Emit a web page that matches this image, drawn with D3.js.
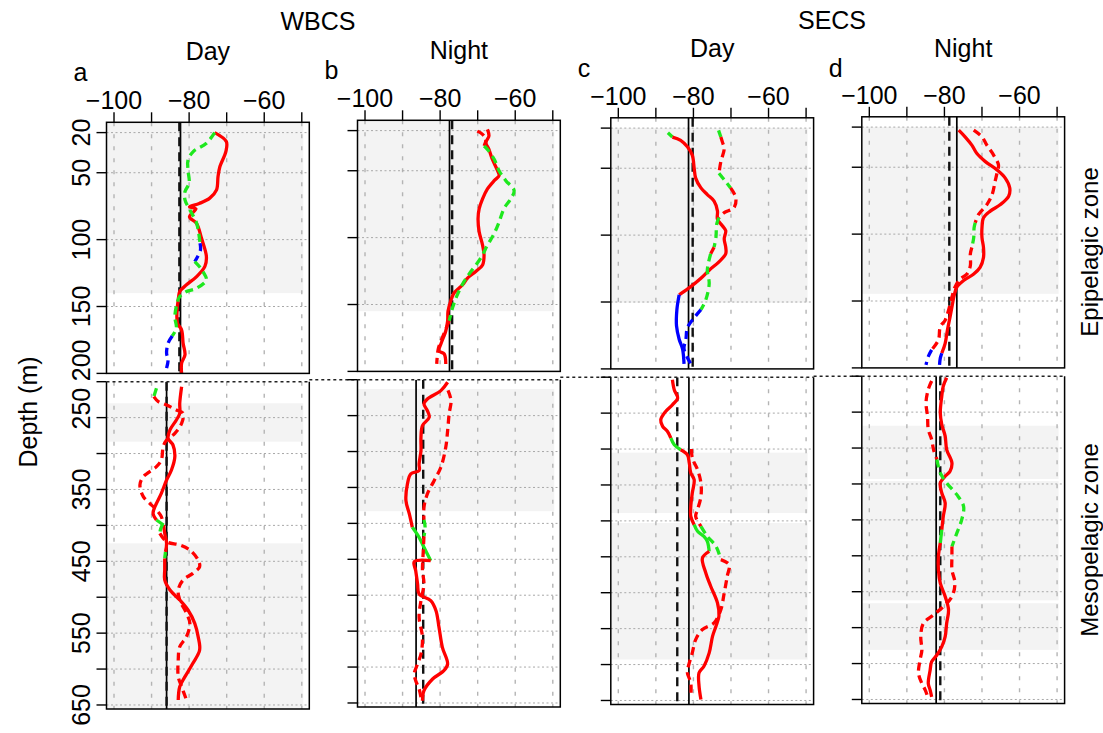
<!DOCTYPE html>
<html>
<head>
<meta charset="utf-8">
<script src="https://cdn.jsdelivr.net/npm/d3@7"></script>
<style>
  body { margin: 0; background: #fff; }
  svg { display: block; }
  text { font-family: "Liberation Sans", Arial, Helvetica, sans-serif; fill: #000; }
</style>
</head>
<body>
<svg id="chart" width="1103" height="733"></svg>
<script>
// ---- axis ticks ----
const xTicks = [-100, -90, -80, -70, -60, -50];
const xTickLabels = [-100, -80, -60];
const upperDepthTicks = [20, 50, 100, 150, 200];
const upperDepthLabels = [20, 50, 100, 150, 200];
const lowerDepthTicks = [200, 250, 300, 350, 400, 450, 500, 550, 600, 650];
const lowerDepthLabels = [250, 350, 450, 550, 650];

// ---- panel headings ----
const regions = ["WBCS", "SECS"];
const periods = ["Day", "Night", "Day", "Night"];
const panelLetters = ["a", "b", "c", "d"];
const zoneLabels = ["Epipelagic zone", "Mesopelagic zone"];

// ---- mean Sv (dB): [solid, dashed] per panel ----
const meanUpper = { a: [-82.3, -82.6], b: [-77.5, -76.8], c: [-81.3, -80.2], d: [-76.7, -78.7] };
const meanLower = { a: [-86.0, -86.0], b: [-86.4, -84.5], c: [-81.2, -84.3], d: [-82.2, -81.1] };

// ---- shaded depth layers (m) ----
const shadeUpper = { a: [[12, 140]], b: [[12, 155]], c: [[20, 150.5]], d: [[20, 144.6]] };
const shadeLower = {
  a: [[230, 283.5], [425, 660]],
  b: [[213, 383]],
  c: [[305, 389], [403, 593]],
  d: [[269, 343], [346, 512], [516, 581]]
};

// ---- Sv profiles: [depth (m), Sv (dB), colour of segment ending here] ----
// colour codes: r = red, g = green, b = blue
const aUpperSolid = [
  [20,-73.2,"r"],[26.7,-70.1,"r"],[34,-70.2,"r"],[45.4,-71.8,"r"],[52.9,-72.3,"r"],[62.8,-72.7,"r"],
  [69,-74.5,"r"],[73,-77.3,"r"],[75.5,-79.9,"r"],[77,-78.2,"r"],[83,-79.9,"r"],[88,-78.0,"r"],
  [99,-76.7,"r"],[112.6,-75.4,"r"],[120,-75.8,"r"],[127.6,-78.0,"r"],[133.8,-80.7,"r"],[138.8,-82.5,"r"],
  [145,-82.9,"r"],[152.5,-83.2,"r"],[162.5,-83.1,"r"],[167.5,-82.0,"r"],[177.4,-81.6,"r"],[186.1,-81.1,"r"],
  [192.4,-82.0,"r"],[200,-82.0,"r"]
];
const aUpperDashed = [
  [20,-73.2,"g"],[28,-75.4,"g"],[34.2,-78.9,"g"],[40.4,-80.3,"g"],[47.9,-80.3,"g"],[57.8,-80.0,"g"],
  [64.1,-81.1,"g"],[70.3,-81.1,"g"],[77.8,-79.8,"g"],[87.7,-78.0,"g"],[102.7,-77.1,"g"],[108,-77.0,"b"],
  [116.4,-78.5,"b"],[121,-77.0,"g"],[125,-76.1,"g"],[130.1,-75.4,"g"],[136.3,-78.0,"g"],[138.8,-80.7,"g"],
  [142.5,-82.5,"g"],[147.5,-83.2,"g"],[157.5,-83.8,"g"],[166.2,-83.4,"g"],[172,-84.5,"g"],[177.4,-85.6,"b"],
  [184.9,-86.0,"b"],[189.9,-85.6,"b"],[196.1,-86.0,"b"]
];
const aLowerSolid = [
  [206.9,-82.0,"r"],[230,-82.5,"r"],[244,-82.5,"r"],[253.3,-83.4,"r"],[267.2,-85.1,"r"],[278.8,-85.6,"r"],
  [288.1,-84.3,"r"],[304.3,-83.8,"r"],[322.9,-84.7,"r"],[336.8,-86.0,"r"],[355.4,-87.4,"r"],[374,-89.1,"r"],
  [383.2,-89.6,"r"],[392.5,-88.7,"r"],[399.5,-86.8,"g"],[411.1,-86.5,"r"],[425,-86.0,"r"],[437,-86.3,"r"],
  [446,-86.5,"g"],[462.1,-86.5,"r"],[476,-86.5,"r"],[490,-85.1,"r"],[503.9,-82.5,"r"],[517.8,-80.3,"r"],
  [536.4,-78.5,"r"],[554.9,-77.6,"r"],[573.5,-77.2,"r"],[592,-79.0,"r"],[610.6,-81.1,"r"],[624.5,-82.5,"r"],
  [643.1,-82.9,"r"]
];
const aLowerDashed = [
  [209.2,-88.7,"g"],[220.8,-89.4,"g"],[227.8,-88.2,"r"],[232.4,-86.0,"r"],[239.4,-83.4,"r"],[244,-81.6,"r"],
  [258,-82.0,"r"],[271.9,-83.8,"r"],[281.1,-86.0,"r"],[290.4,-86.9,"r"],[309,-87.4,"r"],[318.3,-88.7,"r"],
  [332.2,-92.2,"r"],[343.8,-93.1,"r"],[360,-92.2,"r"],[369.3,-90.5,"r"],[376.3,-89.1,"r"],[387.9,-87.4,"r"],
  [398,-87.0,"r"],[405,-87.6,"g"],[411.1,-87.8,"g"],[422.7,-86.0,"r"],[427.3,-82.5,"r"],[434.3,-79.8,"r"],
  [448.2,-77.6,"r"],[457.5,-77.2,"r"],[466.8,-79.0,"r"],[476,-81.6,"r"],[490,-82.9,"r"],[503.9,-82.5,"r"],
  [522.4,-80.7,"r"],[536.4,-79.8,"r"],[554.9,-80.7,"r"],[568.9,-82.5,"r"],[587.4,-82.9,"r"],[610.6,-82.9,"r"],
  [624.5,-82.0,"r"],[643.1,-80.7,"r"]
];

const bUpperSolid = [
  [19.1,-67.4,"r"],[24,-67.0,"r"],[29,-67.8,"r"],[34,-67.0,"r"],[41.4,-66.1,"r"],[50,-64.7,"r"],
  [53.7,-64.3,"r"],[57.4,-65.6,"r"],[63.6,-67.4,"r"],[71,-68.7,"r"],[78.4,-69.6,"r"],[85.8,-69.9,"r"],
  [95.7,-69.6,"r"],[105.6,-68.7,"r"],[113,-68.3,"r"],[120.4,-68.7,"r"],[125.3,-70.5,"r"],[130.2,-72.7,"r"],
  [135.2,-74.0,"r"],[141.4,-76.3,"r"],[147.5,-77.2,"r"],[155,-77.9,"r"],[162.3,-78.0,"r"],[169.8,-78.5,"r"],
  [179.6,-79.8,"r"],[184.6,-80.3,"r"],[187,-78.9,"r"],[194.4,-78.5,"r"]
];
const bUpperDashed = [
  [20.4,-70.1,"r"],[22.8,-68.7,"r"],[26.5,-67.8,"r"],[31.5,-68.3,"r"],[34,-67.4,"g"],[41.4,-65.6,"g"],
  [50,-64.3,"g"],[57.4,-62.5,"g"],[64.8,-60.3,"g"],[71,-61.2,"g"],[78.4,-63.0,"g"],[88.3,-64.3,"g"],
  [96.9,-65.6,"g"],[105.6,-67.4,"g"],[115.4,-69.2,"g"],[125.3,-71.8,"g"],[132.7,-73.6,"g"],[142.6,-75.4,"g"],
  [152.5,-76.7,"g"],[162.3,-77.6,"g"],[174.7,-79.4,"r"],[183.3,-80.5,"r"],[194.4,-80.9,"r"]
];
const bLowerSolid = [
  [203.6,-78.0,"r"],[215.2,-79.8,"r"],[226.8,-83.4,"r"],[233.8,-84.3,"r"],[243,-83.4,"r"],[252.3,-82.9,"r"],
  [263.9,-84.7,"r"],[280.2,-85.1,"r"],[298.7,-85.1,"r"],[317.3,-85.6,"r"],[326.6,-85.6,"r"],[331.2,-87.8,"r"],
  [345.1,-88.7,"r"],[368.3,-89.1,"r"],[386.9,-88.2,"r"],[405.5,-87.4,"r"],[419.4,-85.6,"g"],[433.3,-84.3,"g"],
  [451.9,-82.5,"g"],[453.5,-86.9,"r"],[465.8,-86.5,"r"],[484.3,-86.0,"r"],[498.3,-85.6,"r"],[507.5,-82.5,"r"],
  [521.5,-81.1,"r"],[544.7,-80.3,"r"],[572.5,-79.4,"r"],[595.7,-78.0,"r"],[605,-79.0,"r"],[616.6,-82.0,"r"],
  [632.8,-84.3,"r"],[646.8,-84.7,"r"]
];
const bLowerDashed = [
  [215,-77.9,"r"],[229,-77.1,"r"],[247.7,-77.6,"r"],[270.9,-78.0,"r"],[294.1,-78.5,"r"],[321.9,-79.8,"r"],
  [340.5,-81.6,"r"],[359,-83.4,"r"],[377.6,-84.3,"r"],[395,-84.3,"r"],[405,-84.0,"g"],[418,-84.3,"g"],
  [440,-84.5,"r"],[465.8,-84.7,"r"],[484.3,-84.3,"r"],[507.5,-85.1,"r"],[530.7,-85.6,"r"],[558.6,-84.7,"r"],
  [581.8,-85.1,"r"],[595.7,-86.0,"r"],[609.6,-86.9,"r"],[618.9,-86.5,"r"],[630.5,-85.6,"r"],[642.1,-85.1,"r"]
];

const cUpperSolid = [
  [23.5,-86.8,"g"],[26.7,-85.6,"g"],[29.1,-83.4,"r"],[34,-81.6,"r"],[40.2,-80.3,"r"],[50,-79.8,"r"],
  [57.4,-79.4,"r"],[64.7,-78.0,"r"],[69.7,-76.3,"r"],[74.6,-74.5,"r"],[81.9,-73.6,"r"],[88.1,-73.6,"r"],
  [93,-72.3,"r"],[96.7,-71.4,"r"],[102.8,-71.8,"r"],[109,-71.4,"r"],[113.9,-71.4,"r"],[120,-73.2,"r"],
  [126.2,-75.8,"r"],[132.3,-78.0,"r"],[138.5,-80.7,"r"],[144.6,-83.8,"r"],[155.7,-84.4,"b"],[167.9,-84.5,"b"],
  [177.8,-83.8,"b"],[185.1,-82.9,"b"],[196.2,-82.5,"b"]
];
const cUpperDashed = [
  [21.7,-73.3,"g"],[26.7,-72.7,"g"],[30.3,-72.3,"r"],[35.3,-71.8,"r"],[45.1,-72.7,"r"],[53.7,-73.2,"r"],
  [58.6,-71.8,"g"],[64.7,-70.1,"g"],[72.1,-68.7,"r"],[79.5,-69.2,"r"],[83.2,-71.8,"r"],[86.9,-73.2,"r"],
  [91.8,-73.8,"g"],[101.6,-74.0,"g"],[109,-74.5,"g"],[113.9,-75.4,"r"],[126.2,-76.3,"g"],[136,-75.8,"g"],
  [148.3,-76.7,"g"],[155.7,-78.0,"g"],[161.8,-79.8,"b"],[169.2,-81.6,"b"],[177.8,-82.0,"b"],[185.1,-82.5,"b"],
  [196.2,-80.7,"b"]
];
const cLowerSolid = [
  [203.6,-85.6,"r"],[217.6,-85.1,"r"],[229.1,-84.2,"r"],[238.4,-85.6,"r"],[247.7,-87.4,"r"],[259.3,-88.7,"r"],
  [268.5,-88.2,"r"],[275.5,-86.9,"r"],[284.8,-86.0,"r"],[294,-85.1,"g"],[301,-83.4,"g"],[308,-81.6,"r"],
  [319.5,-81.1,"r"],[333.4,-80.7,"r"],[342.7,-79.8,"r"],[361.2,-80.3,"r"],[379.8,-80.7,"r"],[393.7,-80.7,"r"],
  [405.3,-79.8,"r"],[414.5,-78.9,"g"],[421.5,-77.2,"g"],[428.4,-76.3,"g"],[442.4,-75.8,"g"],[451.6,-77.6,"r"],
  [472.5,-76.7,"r"],[491,-75.4,"r"],[514.2,-73.6,"r"],[532.7,-73.2,"r"],[546.6,-74.0,"r"],[560.5,-74.9,"r"],
  [583.7,-75.8,"r"],[602.3,-77.2,"r"],[611.5,-78.5,"r"],[630,-78.5,"r"],[648.6,-78.0,"r"]
];
const cLowerDashed = [
  [300,-80.5,"r"],[312.6,-80.3,"r"],[328.8,-78.9,"r"],[347.3,-78.0,"r"],[365.9,-78.0,"r"],[384.4,-78.9,"r"],
  [393.7,-79.4,"r"],[407.6,-78.0,"r"],[421.5,-76.3,"g"],[435.4,-74.0,"g"],[453.9,-72.7,"g"],[460.9,-70.5,"r"],
  [477.1,-71.0,"r"],[500.3,-71.8,"r"],[523.5,-72.7,"r"],[542,-74.5,"r"],[551.3,-77.6,"r"],[565.2,-79.4,"r"],
  [583.7,-80.3,"r"],[597.6,-81.1,"r"],[611.5,-81.6,"r"],[625.4,-80.7,"r"],[646.3,-80.7,"r"]
];

const dUpperSolid = [
  [22.3,-76.2,"r"],[27.3,-74.5,"r"],[33.5,-72.7,"r"],[39.6,-71.4,"r"],[45.8,-69.1,"r"],[52,-66.0,"r"],
  [58.1,-63.8,"r"],[65.6,-62.6,"r"],[71.7,-62.9,"r"],[77.9,-65.1,"r"],[82.8,-67.8,"r"],[87.8,-69.6,"r"],
  [95.2,-70.0,"r"],[102.6,-70.0,"r"],[110,-69.6,"r"],[117.4,-69.6,"r"],[124.8,-70.5,"r"],[129.8,-72.2,"r"],
  [134.7,-74.9,"r"],[139.6,-76.7,"r"],[145.8,-77.4,"r"],[154.4,-78.0,"r"],[161.9,-78.5,"r"],[171.7,-79.2,"r"],
  [181.6,-79.8,"r"],[189,-80.7,"r"],[192.7,-81.1,"b"],[197.7,-81.3,"b"]
];
const dUpperDashed = [
  [22.3,-72.2,"r"],[27.3,-70.0,"r"],[33.5,-68.7,"r"],[40.9,-66.9,"r"],[48.3,-65.6,"r"],[54.4,-66.0,"r"],
  [60.6,-66.5,"r"],[70.5,-67.3,"r"],[77.9,-68.7,"r"],[85.3,-70.9,"r"],[91.5,-71.8,"r"],[95.2,-72.1,"g"],
  [102.6,-72.2,"g"],[110,-72.7,"g"],[114.9,-73.1,"r"],[123.6,-73.1,"r"],[129.8,-74.0,"r"],[133.5,-75.8,"r"],
  [139.6,-77.2,"r"],[147,-78.0,"r"],[156.9,-78.9,"r"],[164.3,-79.8,"r"],[169.3,-81.1,"r"],[179.1,-81.6,"r"],
  [186.5,-83.4,"r"],[191.5,-84.3,"b"],[197.7,-84.9,"b"]
];
const dLowerSolid = [
  [202.1,-79.4,"r"],[213.7,-80.3,"r"],[227.7,-80.7,"r"],[250.9,-81.1,"r"],[267.2,-80.7,"r"],[283.5,-79.8,"r"],
  [302.1,-79.4,"r"],[320.7,-78.0,"r"],[332.3,-78.5,"r"],[339.3,-79.8,"r"],[348.6,-81.1,"r"],[362.6,-80.7,"r"],
  [376.5,-79.8,"r"],[395.1,-80.3,"r"],[413.7,-80.7,"r"],[432.3,-81.1,"g"],[450.9,-81.6,"r"],[469.5,-81.6,"r"],
  [488.1,-81.1,"r"],[506.7,-79.8,"r"],[525.3,-78.9,"r"],[543.9,-79.4,"r"],[562.6,-79.8,"r"],[576.5,-80.7,"r"],
  [588.1,-82.0,"r"],[597.4,-83.4,"r"],[609.1,-83.8,"r"],[627.7,-84.3,"r"],[637,-83.8,"r"],[646.3,-83.4,"r"]
];
const dLowerDashed = [
  [206.7,-83.4,"r"],[218.4,-84.3,"r"],[237,-84.9,"r"],[255.6,-84.5,"r"],[274.2,-84.3,"r"],[288.1,-83.4,"r"],
  [302.1,-82.9,"r"],[316,-82.0,"r"],[334.7,-81.1,"g"],[348.6,-79.4,"g"],[364.9,-76.7,"g"],[381.2,-74.9,"g"],
  [399.8,-75.4,"g"],[418.4,-76.7,"g"],[437,-78.0,"g"],[450.9,-78.0,"r"],[469.5,-78.0,"r"],[488.1,-77.2,"r"],
  [506.7,-78.0,"r"],[520.7,-80.3,"r"],[532.3,-82.9,"r"],[543.9,-85.6,"r"],[562.6,-86.3,"r"],[581.2,-86.0,"r"],
  [595.1,-86.5,"r"],[613.7,-86.9,"r"],[627.7,-86.0,"r"],[637,-85.1,"r"],[648.6,-84.3,"r"]
];

const profiles = {
  a: { upper: [aUpperSolid, aUpperDashed], lower: [aLowerSolid, aLowerDashed] },
  b: { upper: [bUpperSolid, bUpperDashed], lower: [bLowerSolid, bLowerDashed] },
  c: { upper: [cUpperSolid, cUpperDashed], lower: [cLowerSolid, cLowerDashed] },
  d: { upper: [dUpperSolid, dUpperDashed], lower: [dLowerSolid, dLowerDashed] }
};

// ---- layout ----
const svg = d3.select("#chart");
const FONT = 25;
const boxW = 202.8;
const panelLeft = [106.5, 357.5, 610.8, 861.8];
const panelShift = [0, -2, -4.5, -5.5];
const upperTop = 122.3, upperBottom = 373.4;
const lowerTop = 381.7, lowerBottom = 709;
const svDomain = [-102, -48];
const colour = { r: "#ff0000", g: "#1ee81e", b: "#0000ff" };
const tickLen = 10;

const defs = svg.append("defs");

function drawProfile(g, pts, x, y, dashed) {
  // split the profile into runs of one colour, each run joined to the previous point
  const runs = [];
  for (let i = 1; i < pts.length; i++) {
    const c = pts[i][2];
    const last = runs[runs.length - 1];
    if (last && last.c === c) last.pts.push(pts[i]);
    else runs.push({ c, pts: [pts[i - 1], pts[i]] });
  }
  const line = d3.line().x(p => x(p[1])).y(p => y(p[0])).curve(d3.curveCatmullRom.alpha(0.5));
  runs.forEach(run => {
    g.append("path")
      .attr("d", line(run.pts))
      .attr("fill", "none")
      .attr("stroke", colour[run.c])
      .attr("stroke-width", 3.3)
      .attr("stroke-linecap", "butt")
      .attr("stroke-linejoin", "round")
      .attr("stroke-dasharray", dashed ? "8,5" : null);
  });
}

panelLetters.forEach((key, i) => {
  const left = panelLeft[i];
  const dy = panelShift[i];
  const x = d3.scaleLinear().domain(svDomain).range([left, left + boxW]);

  const halves = [
    { name: "upper", y: d3.scaleLinear().domain([12.3, 200]).range([upperTop + dy, upperBottom + dy]),
      ticks: upperDepthTicks, shade: shadeUpper[key], means: meanUpper[key], grid: [20, 50, 100, 150] },
    { name: "lower", y: d3.scaleLinear().domain([200, 655.6]).range([lowerTop + dy, lowerBottom + dy]),
      ticks: lowerDepthTicks, shade: shadeLower[key], means: meanLower[key], grid: [250, 300, 350, 400, 450, 500, 550, 600, 650] }
  ];

  halves.forEach(h => {
    const [d0, d1] = h.y.domain();
    const top = h.y(d0), bottom = h.y(d1);
    const clipId = `clip-${key}-${h.name}`;
    defs.append("clipPath").attr("id", clipId)
      .append("rect").attr("x", left).attr("y", top).attr("width", boxW).attr("height", bottom - top);

    const g = svg.append("g");
    const inner = g.append("g").attr("clip-path", `url(#${clipId})`);

    // shaded layers
    h.shade.forEach(([s0, s1]) => {
      inner.append("rect")
        .attr("x", x(-102)).attr("width", x(-49.6) - x(-102))
        .attr("y", h.y(s0)).attr("height", h.y(s1) - h.y(s0))
        .attr("fill", "#f3f3f3");
    });

    // grid
    inner.selectAll(".vg").data(xTicks).join("line")
      .attr("x1", d => x(d)).attr("x2", d => x(d))
      .attr("y1", top).attr("y2", bottom)
      .attr("stroke", "#b4b4b4").attr("stroke-width", 1.4).attr("stroke-dasharray", "4,8");
    inner.selectAll(".hg").data(h.grid).join("line")
      .attr("x1", left).attr("x2", left + boxW)
      .attr("y1", d => h.y(d)).attr("y2", d => h.y(d))
      .attr("stroke", "#a8a8a8").attr("stroke-width", 1).attr("stroke-dasharray", "2,2.5");

    // mean lines
    inner.append("line")
      .attr("x1", x(h.means[0])).attr("x2", x(h.means[0]))
      .attr("y1", top).attr("y2", bottom)
      .attr("stroke", "#000").attr("stroke-width", 1.7);
    inner.append("line")
      .attr("x1", x(h.means[1])).attr("x2", x(h.means[1]))
      .attr("y1", top).attr("y2", bottom)
      .attr("stroke", "#111").attr("stroke-width", 2.4).attr("stroke-dasharray", "9,6");

    // profiles
    const [solid, dashed] = profiles[key][h.name];
    drawProfile(inner, solid, x, h.y, false);
    drawProfile(inner, dashed, x, h.y, true);

    // frame
    if (h.name === "upper") {
      g.append("rect").attr("x", left).attr("y", top).attr("width", boxW).attr("height", bottom - top)
        .attr("fill", "none").attr("stroke", "#000").attr("stroke-width", 1.5);
    } else {
      g.append("path")
        .attr("d", `M${left},${top}V${bottom}H${left + boxW}V${top}`)
        .attr("fill", "none").attr("stroke", "#000").attr("stroke-width", 1.5);
      const x0 = i === 0 ? left : panelLeft[i - 1] + boxW;
      g.append("line")
        .attr("x1", x0).attr("x2", left + boxW).attr("y1", top).attr("y2", top)
        .attr("stroke", "#222").attr("stroke-width", 1.4).attr("stroke-dasharray", "3,3");
    }

    // depth ticks
    g.selectAll(".yt").data(h.ticks).join("line")
      .attr("x1", left - tickLen).attr("x2", left)
      .attr("y1", d => h.y(d)).attr("y2", d => h.y(d))
      .attr("stroke", "#000").attr("stroke-width", 1.4);

    if (h.name === "upper") {
      g.selectAll(".xt").data(xTicks).join("line")
        .attr("x1", d => x(d)).attr("x2", d => x(d))
        .attr("y1", top - tickLen).attr("y2", top)
        .attr("stroke", "#000").attr("stroke-width", 1.4);
      g.selectAll(".xl").data(xTickLabels).join("text")
        .attr("x", d => x(d)).attr("y", top - 13)
        .attr("text-anchor", "middle").attr("font-size", FONT)
        .text(d => d3.format("d")(d));
    }

    // depth labels on the first panel only
    if (i === 0) {
      const labels = h.name === "upper" ? upperDepthLabels : lowerDepthLabels;
      labels.forEach(d => {
        let yy = h.y(d);
        if (d === 200) yy -= 13;
        if (d === 250) yy -= 9;
        g.append("text")
          .attr("transform", `translate(${left - 17},${yy}) rotate(-90)`)
          .attr("text-anchor", "middle").attr("font-size", FONT)
          .text(d);
      });
    }
  });

  // headings
  svg.append("text").attr("x", left + boxW / 2).attr("y", 60 + dy * 0.6)
    .attr("text-anchor", "middle").attr("font-size", FONT).text(periods[i]);
  svg.append("text").attr("x", left - 33).attr("y", 81 + dy * 0.8)
    .attr("font-size", FONT).text(panelLetters[i]);
});

// region titles
svg.append("text").attr("x", 318).attr("y", 30).attr("text-anchor", "middle").attr("font-size", FONT).text(regions[0]);
svg.append("text").attr("x", 832).attr("y", 29).attr("text-anchor", "middle").attr("font-size", FONT).text(regions[1]);

// axis title and zone labels
svg.append("text").attr("transform", "translate(37,412) rotate(-90)")
  .attr("text-anchor", "middle").attr("font-size", FONT).text("Depth (m)");
svg.append("text").attr("transform", "translate(1098,252) rotate(-90)")
  .attr("text-anchor", "middle").attr("font-size", 24).text(zoneLabels[0]);
svg.append("text").attr("transform", "translate(1098,540) rotate(-90)")
  .attr("text-anchor", "middle").attr("font-size", 24).text(zoneLabels[1]);
</script>
</body>
</html>
